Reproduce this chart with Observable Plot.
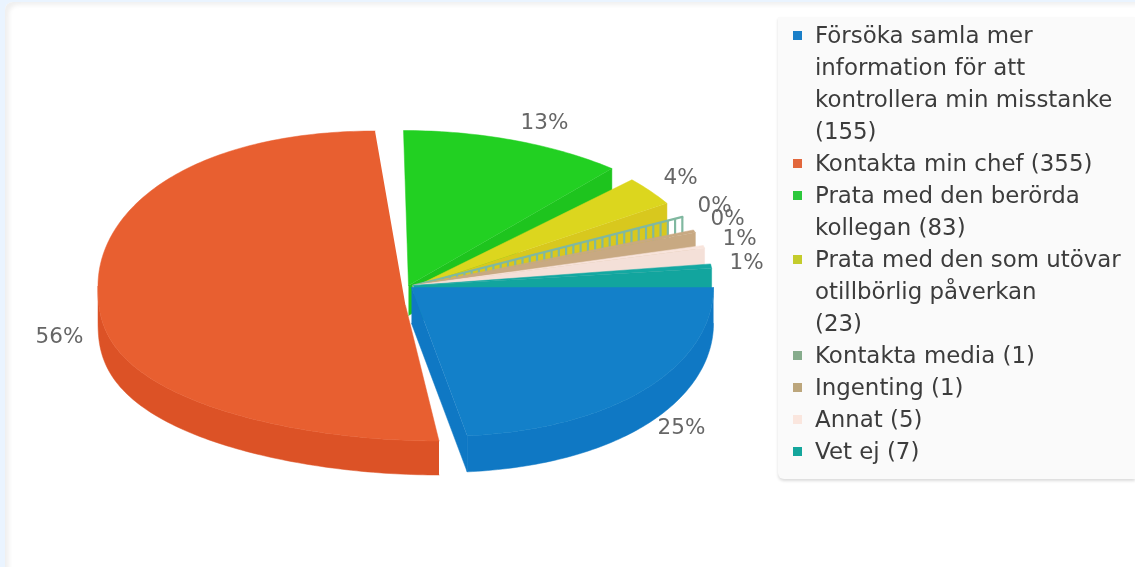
<!DOCTYPE html>
<html><head><meta charset="utf-8">
<script src="https://cdn.jsdelivr.net/npm/d3@7"></script>
<script src="https://cdn.jsdelivr.net/npm/@observablehq/plot@0.6"></script>
<style>
html,body{margin:0;padding:0;background:#eaf4ff;width:1135px;height:567px;overflow:hidden}
#panel{position:absolute;left:5px;top:2px;width:1130px;height:565px;background:#fff;border-top-left-radius:8px;box-shadow:inset 5px 4px 4px -1px #f0f0f0}
#chart{position:absolute;left:0;top:0;filter:blur(.5px)}
#legend{position:absolute;left:778px;top:17px;width:357px;height:460px;padding-top:2px;background:#fafafa;border-bottom-left-radius:6px;box-shadow:0 2px 3px #dcdcdc;font:22.9px/32px "DejaVu Sans",sans-serif;color:#3c3c3c;filter:blur(.4px)}
.item{position:relative;padding-left:37px;white-space:nowrap}
.sw{position:absolute;left:15px;top:12px;width:9px;height:9px}
</style></head><body>
<div id="panel"></div><div id="chart"></div><div id="legend"></div>
<script>
// Data
const categories = ["Försöka samla mer\ninformation för att\nkontrollera min misstanke\n(155)","Kontakta min chef (355)","Prata med den berörda\nkollegan (83)","Prata med den som utövar\notillbörlig påverkan\n(23)","Kontakta media (1)","Ingenting (1)","Annat (5)","Vet ej (7)"];
const counts = [155,355,83,23,1,1,5,7];
const percentLabels = ["25%","56%","13%","4%","0%","0%","1%","1%"];
const colors = ["#1380c9","#e85f30","#22d022","#dcd61e","#80b8a0","#c8a982","#f8e4dc","#14a8a2"];
const legendColors = ["#1a7fc8","#e2673c","#2cc83c","#c4cc2c","#86ac8c","#bca67c","#fae6de","#14a69c"];
const wallColors = ["#0f78c4","#dc5226","#1ec41e","#d8c81e","#80b8a0","#c8a982","#f4e0d8","#12a59e"];
// Angles the slices occupy as drawn (degrees clockwise from 3 o'clock)
const startAngle = [0,90,270,317,328,339,345,352];
const endAngle =   [84.7,270,311,328,333.7,340,346,353.6];
// Slice geometry relative to the pie centre
const centerX = [1,-3.5,0,2,2,2,2,2];
const centerY = [2,0.5,0,0,0,0,0,0];
const radiusX = [302,309,313,300,301,301,301,301];
const radiusY = [149,155,155,155,155,155,155,155];
const shear =   [28,32,7,0,0,0,0,0];
const depth =   [36,34,30,34,18,35,35,35];
const apexX =   [1,-5,-2,3,3,3,3,3];
const apexY =   [2,20,0,2,0,0,0,0];
const frontBulge = [1,0.78,1,1,1,1,1,1];
// Label anchors relative to the pie centre
const labelX = [271,-351,134,270,304,317,329,336];
const labelY = [142,51,-163,-108,-80,-67,-47,-23];

const rad = d => d * Math.PI / 180;
const pos = (i,t) => {
  const s = Math.sin(rad(t));
  const sy = s > 0 ? Math.pow(s, frontBulge[i]) : s;
  return {x: centerX[i] + radiusX[i]*Math.cos(rad(t)) + shear[i]*s*Math.abs(s), y: centerY[i] + radiusY[i]*sy};
};
const arc = (i,a,b) => { const n = Math.max(2, Math.ceil(Math.abs(b-a))+1); return d3.range(n).map(k => pos(i, a+(b-a)*k/(n-1))); };
const shift = (p,d) => ({x:p.x, y:p.y+d});

function sliceMarks(i){
  const apex = {x:apexX[i], y:apexY[i]}, d = depth[i], marks = [];
  const poly = (pts,fill) => Plot.line(pts,{x:"x",y:"y",fill,stroke:fill,strokeWidth:0.5,curve:"linear"});
  if (i !== 1 && i !== 4) {
    const e = pos(i,endAngle[i]);
    marks.push(poly([apex,e,shift(e,d),shift(apex,d)], wallColors[i]));
  }
  const a = Math.max(startAngle[i],0), b = Math.min(endAngle[i],180);
  if (b > a) {
    const outer = arc(i,a,b);
    marks.push(poly([...outer,...outer.slice().reverse().map(p=>shift(p,d))], wallColors[i]));
  }
  if (i === 4) {
    // the hollow "Kontakta media" sliver: an outline with upright hatching
    const e = pos(i,endAngle[i]);
    const steps = d3.range(0,1.0001,1/37);
    const ticks = steps.map(f => ({x:apex.x+(e.x-apex.x)*f, y:apex.y+(e.y-apex.y)*f}));
    marks.push(Plot.link(ticks,{x1:"x",x2:"x",y1:"y",y2:p=>p.y+d,stroke:colors[i],strokeWidth:2.2}));
    marks.push(Plot.line([apex,e],{x:"x",y:"y",stroke:colors[i],strokeWidth:2.2}));
  } else {
    marks.push(poly([apex,...arc(i,startAngle[i],endAngle[i])], colors[i]));
  }
  return marks;
}

const order = [2,3,4,5,6,7,1,0];
const labels = percentLabels.map((text,i)=>({text,x:labelX[i],y:labelY[i]}));
const svg = Plot.plot({
  width:1135,height:567,margin:0,
  style:{background:"transparent"},
  x:{domain:[-410,725],range:[0,1135],axis:null},
  y:{domain:[-285,282],range:[0,567],axis:null},
  marks:[
    ...order.flatMap(sliceMarks),
    Plot.text(labels,{x:"x",y:"y",text:"text",fill:"#666",fontSize:21.5,fontFamily:"DejaVu Sans"})
  ]
});
document.getElementById("chart").append(svg);

const legend = document.getElementById("legend");
categories.forEach((c,i)=>{
  const el = document.createElement("div"); el.className="item";
  const sw = document.createElement("span"); sw.className="sw"; sw.style.background=legendColors[i];
  el.append(sw);
  c.split("\n").forEach((l,k)=>{ if(k) el.append(document.createElement("br")); el.append(document.createTextNode(l)); });
  legend.append(el);
});
</script></body></html>
